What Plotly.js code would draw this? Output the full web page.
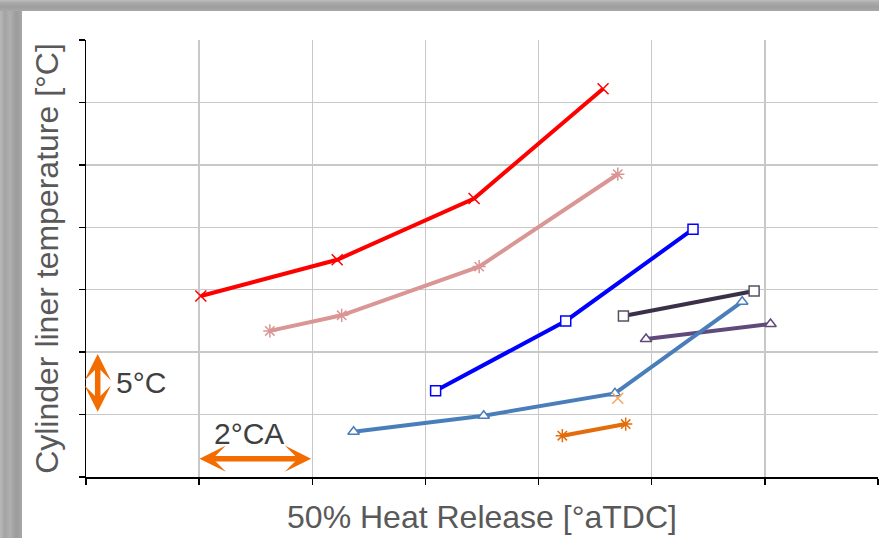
<!DOCTYPE html>
<html>
<head>
<meta charset="utf-8">
<script src="https://cdn.plot.ly/plotly-3.0.1.min.js"></script>
<style>
  html, body { margin: 0; padding: 0; width: 879px; height: 538px; overflow: hidden; }
  body {
    background:
      linear-gradient(to bottom, #bdbdbd 0px, #a9a9a9 3px, #9e9e9e 7px, #a8a8a8 11px, rgba(0,0,0,0) 11px),
      linear-gradient(to right, #b9b9b9 0px, #a3a3a3 5px, #b0b0b0 10px, #9c9c9c 16px, #a6a6a6 22px);
  }
  #chart { position: absolute; left: 22px; top: 11px; width: 857px; height: 527px; background: #ffffff; }
</style>
</head>
<body>
<div id="chart"></div>
<script>
// Values (x in °CA units, y in °C units relative to axis origin)
const xRed    = [2.03, 4.44, 6.86, 9.14];
const yRed    = [14.5, 17.4, 22.3, 31.1];
const xPink   = [3.25, 4.52, 6.95, 9.40];
const yPink   = [11.7, 12.95, 16.85, 24.25];
const xBlue   = [6.18, 8.48, 10.73];
const yBlue   = [6.9, 12.5, 19.85];
const xDark   = [9.50, 11.81];
const yDark   = [12.9, 14.9];
const xPurple = [9.90, 12.10];
const yPurple = [11.05, 12.25];
const xSteel  = [4.73, 7.03, 9.35, 11.60];
const ySteel  = [3.63, 4.91, 6.70, 14.04];
const xOrange = [8.42, 9.54];
const yOrange = [3.31, 4.24];
const xLight  = [9.40];
const yLight  = [6.30];

const xTitle = '50% Heat Release [°aTDC]';
const yTitle = 'Cylinder liner temperature [°C]';
const tempScaleLabel = '5°C';
const caScaleLabel = '2°CA';

function line(x, y, color, symbol, size, fill, outline) {
  return {
    x: x, y: y, type: 'scatter', mode: 'lines+markers',
    line: { color: color, width: 4 },
    marker: { symbol: symbol, size: size, color: fill || color,
              line: { color: outline || color, width: 1.5 } },
    hoverinfo: 'skip'
  };
}

const data = [
  line(xRed, yRed, '#ff0000', 'x-thin-open', 11, null, '#ff0000'),
  line(xPink, yPink, '#d99694', 'asterisk-open', 11, null, '#d99694'),
  line(xBlue, yBlue, '#0000ff', 'square', 10, '#ffffff', '#0000ff'),
  line(xDark, yDark, '#3b3048', 'square', 10, '#ffffff', '#5a4e66'),
  line(xPurple, yPurple, '#604a7b', 'triangle-up', 10, '#ffffff', '#604a7b'),
  line(xSteel, ySteel, '#4a7ebb', 'triangle-up', 10, '#ffffff', '#4a7ebb'),
  line(xOrange, yOrange, '#e46c0a', 'asterisk-open', 11, null, '#e46c0a'),
  { x: xLight, y: yLight, type: 'scatter', mode: 'markers',
    marker: { symbol: 'x-thin-open', size: 11, color: '#f7a463', line: { color: '#f7a463', width: 1.5 } },
    hoverinfo: 'skip' }
];

const arrowColor = '#f26c00';
const layout = {
  width: 857, height: 527,
  margin: { l: 64, r: 1, t: 29, b: 61 },
  paper_bgcolor: '#ffffff', plot_bgcolor: '#ffffff',
  showlegend: false,
  font: { family: 'Liberation Sans, Arial, sans-serif', color: '#595959' },
  xaxis: {
    range: [0, 14], dtick: 2, tick0: 0, showticklabels: false,
    showgrid: true, gridcolor: '#c8c8c8', gridwidth: 1.5,
    zeroline: false, showline: true, linecolor: '#000000', linewidth: 1.5,
    ticks: 'outside', ticklen: 6, tickcolor: '#000000', tickwidth: 1.5,
    title: { text: xTitle, font: { size: 32, color: '#595959' }, standoff: 22 }
  },
  yaxis: {
    range: [0, 35], dtick: 5, tick0: 0, showticklabels: false,
    showgrid: true, gridcolor: '#c8c8c8', gridwidth: 1.5,
    zeroline: false, showline: true, linecolor: '#000000', linewidth: 1.5,
    ticks: 'outside', ticklen: 6, tickcolor: '#000000', tickwidth: 1.5,
    title: { text: yTitle, font: { size: 32, color: '#595959' }, standoff: 10 }
  },
  annotations: [
    { x: 0.207, y: 9.85, ax: 0.207, ay: 5.1, xref: 'x', yref: 'y', axref: 'x', ayref: 'y',
      text: '', showarrow: true, arrowhead: 3, startarrowhead: 3, arrowside: 'end+start',
      arrowsize: 0.8, startarrowsize: 0.8, arrowwidth: 5.5, arrowcolor: arrowColor },
    { x: 3.98, y: 1.47, ax: 1.98, ay: 1.47, xref: 'x', yref: 'y', axref: 'x', ayref: 'y',
      text: '', showarrow: true, arrowhead: 3, startarrowhead: 3, arrowside: 'end+start',
      arrowsize: 0.8, startarrowsize: 0.8, arrowwidth: 5.5, arrowcolor: arrowColor },
    { x: 0.97, y: 7.53, xref: 'x', yref: 'y', text: tempScaleLabel, showarrow: false,
      font: { size: 30, color: '#404040' } },
    { x: 2.88, y: 3.52, xref: 'x', yref: 'y', text: caScaleLabel, showarrow: false,
      font: { size: 30, color: '#404040' } }
  ]
};

Plotly.newPlot('chart', data, layout, { displayModeBar: false, staticPlot: true });
</script>
</body>
</html>
